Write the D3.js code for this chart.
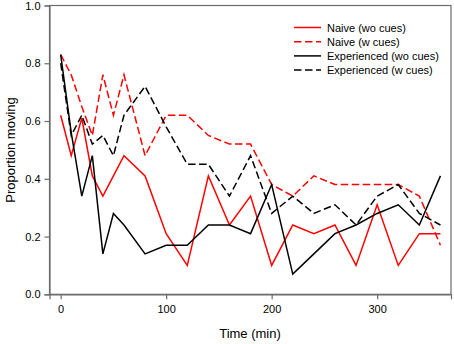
<!DOCTYPE html>
<html><head><meta charset="utf-8">
<script src="https://cdn.jsdelivr.net/npm/d3@7/dist/d3.min.js"></script>
<style>body{margin:0;background:#fff}svg{display:block;font-family:"Liberation Sans",Arial,sans-serif}</style>
</head><body><svg id="c" width="454" height="344"></svg>
<script>
const times = [0,10,20,30,40,50,60,80,100,120,140,160,180,200,220,240,260,280,300,320,340,360];
const naiveWo = [0.62,0.48,0.61,0.41,0.34,0.41,0.48,0.41,0.21,0.10,0.41,0.24,0.34,0.10,0.24,0.21,0.24,0.10,0.31,0.10,0.21,0.21];
const naiveW  = [0.83,0.76,0.65,0.55,0.76,0.62,0.76,0.48,0.62,0.62,0.55,0.52,0.52,0.38,0.34,0.41,0.38,0.38,0.38,0.38,0.34,0.17];
const expWo   = [0.83,0.56,0.34,0.48,0.14,0.28,0.24,0.14,0.17,0.17,0.24,0.24,0.21,0.38,0.07,0.14,0.21,0.24,0.28,0.31,0.24,0.41];
const expW    = [0.80,0.55,0.62,0.52,0.55,0.48,0.62,0.72,0.58,0.45,0.45,0.34,0.48,0.28,0.34,0.28,0.31,0.24,0.34,0.38,0.28,0.24];
const seriesNames = ["Naive (wo cues)","Naive (w cues)","Experienced (wo cues)","Experienced (w cues)"];
const seriesColors = ["#ff0000","#ff0000","#000000","#000000"];
const seriesDashed = [false,true,false,true];
const xTicks = [0,100,200,300];
const yTicks = [0,0.2,0.4,0.6,0.8,1.0];

const svg = d3.select("#c");
const L=49.5, R=451, T=5.5, B=294.3;
const x = d3.scaleLinear().domain([-10.6,370]).range([L,R]);
const y = d3.scaleLinear().domain([0,1]).range([B,T]);
const allSeries=[naiveWo,naiveW,expWo,expW];

const clip = svg.append("defs").append("clipPath").attr("id","cp").append("rect")
  .attr("x",L).attr("y",T).attr("width",R-L).attr("height",B-T);

const line = d3.line().x((d,i)=>x(times[i])).y(d=>y(d));
const g = svg.append("g").attr("clip-path","url(#cp)");
allSeries.forEach((s,k)=>{
  g.append("path").datum(s).attr("d",line).attr("fill","none")
   .attr("stroke",seriesColors[k]).attr("stroke-width",1.5)
   .attr("stroke-dasharray",seriesDashed[k]?"7.5,3.5":null);
});

// frame
svg.append("rect").attr("x",L).attr("y",T).attr("width",R-L).attr("height",B-T)
  .attr("fill","none").attr("stroke","#6b6b6b").attr("stroke-width",1.2);

const xa = svg.append("g").attr("transform",`translate(0,${B})`)
  .call(d3.axisBottom(x).tickValues(xTicks).tickSize(5).tickPadding(6).tickFormat(d3.format("d")));
const ya = svg.append("g").attr("transform",`translate(${L},0)`)
  .call(d3.axisLeft(y).tickValues(yTicks).tickSize(5).tickPadding(4).tickFormat(d3.format(".1f")));
[xa,ya].forEach(a=>{
  a.select(".domain").attr("stroke","#6b6b6b").attr("stroke-width",1.2);
  a.selectAll(".tick line").attr("stroke","#6b6b6b").attr("stroke-width",1.2);
  a.selectAll("text").attr("font-size",11).attr("fill","#000").attr("font-family","Liberation Sans, Arial, sans-serif");
});

svg.append("text").attr("x",250).attr("y",338).attr("text-anchor","middle")
  .attr("font-size",13).text("Time (min)");
svg.append("text").attr("transform","translate(15,150) rotate(-90)").attr("text-anchor","middle")
  .attr("font-size",13).text("Proportion moving");

const lg = svg.append("g");
seriesNames.forEach((n,k)=>{
  const yy = 27.5 + k*14.2;
  lg.append("line").attr("x1",294).attr("x2",321).attr("y1",yy).attr("y2",yy)
    .attr("stroke",seriesColors[k]).attr("stroke-width",1.5)
    .attr("stroke-dasharray",seriesDashed[k]?"7.5,3.5":null);
  lg.append("text").attr("x",327).attr("y",yy+4).attr("font-size",11).text(n);
});
</script></body></html>
